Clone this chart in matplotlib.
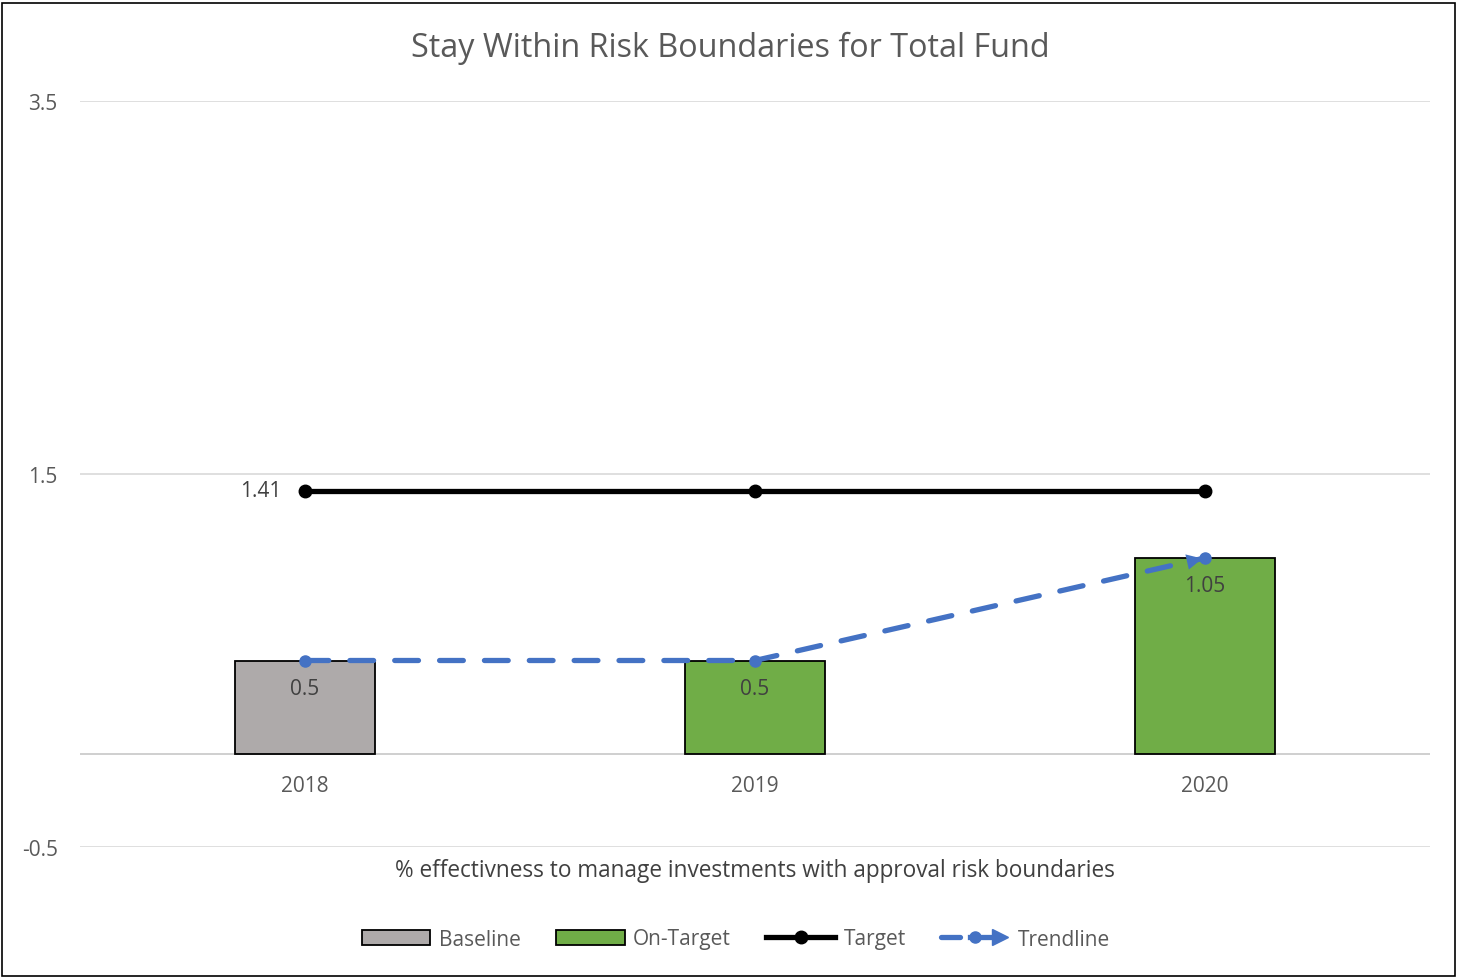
import numpy as np
import matplotlib.pyplot as plt
from matplotlib.patches import Rectangle, FancyArrowPatch
from matplotlib.lines import Line2D
from matplotlib.legend_handler import HandlerBase

plt.rcParams['font.family'] = ['Open Sans', 'DejaVu Sans']

years      = ['2018', '2019', '2020']
bar_vals   = [0.5, 0.5, 1.05]
bar_kind   = ['Baseline', 'On-Target', 'On-Target']
target     = [1.41, 1.41, 1.41]
trend      = [0.5, 0.5, 1.05]
yticks     = [-0.5, 1.5, 3.5]

GREY   = '#AEAAAA'
GREEN  = '#70AD47'
BLUE   = '#4472C4'
TXT    = '#595959'
DARK   = '#404040'


class TrendHandler(HandlerBase):
    # dash - dot - arrow, like the excel legend key
    def create_artists(self, legend, orig, xd, yd, w, h, fontsize, trans):
        y = (h - yd) / 2
        x0 = -xd
        a = Line2D([x0, x0 + 0.28 * w], [y, y], color=BLUE, lw=3.8, solid_capstyle='round')
        b = Line2D([x0 + 0.42 * w, x0 + 0.75 * w], [y, y], color=BLUE, lw=3.8)
        c = Line2D([x0 + 0.5 * w], [y], ls='none', marker='o', ms=8, color=BLUE)
        d = Line2D([x0 + 0.85 * w], [y], ls='none', marker='>', ms=11, color=BLUE)
        arts = [a, b, c, d]
        for art in arts:
            art.set_transform(trans)
        return arts


fig = plt.figure(figsize=(14.58, 9.79), dpi=100)
ax = fig.add_axes([80/1458, 1-848/979, 1350/1458, 746/979])

x = np.arange(len(years))
colors = [GREY if k == 'Baseline' else GREEN for k in bar_kind]
ax.bar(x, bar_vals, width=0.313, color=colors, edgecolor='black', linewidth=1.3, zorder=2)
for xi, v in zip(x, bar_vals):
    ax.annotate(f'{v:g}', (xi, v), xytext=(0, -20), textcoords='offset points',
                ha='center', va='center', fontsize=15, color=DARK, zorder=5)

# target line
ax.plot(x, target, color='black', lw=3.8, marker='o', ms=9, zorder=4)
ax.annotate(f'{target[0]:g}', (x[0], target[0]), xytext=(-32, 0), textcoords='offset points',
            ha='center', va='center', fontsize=15, color=DARK)

# trendline (straight dashed segments + arrow at the end)
ax.plot(x, trend, color=BLUE, lw=3.8, ls=(0, (4.5, 4)), dash_capstyle='round',
        marker='o', ms=8, zorder=5)
ax.add_patch(FancyArrowPatch((x[-1] - 0.09, trend[-1] - 0.09 * (trend[-1] - trend[-2])),
                             (x[-1], trend[-1]), arrowstyle='-|>', mutation_scale=28,
                             color=BLUE, lw=0, zorder=6))

ax.set_xlim(-0.5, 2.5)
ax.set_ylim(-0.5, 3.5)
ax.set_yticks(yticks)
ax.set_yticklabels([f'{t:g}' for t in yticks])
ax.tick_params(axis='y', length=0, labelsize=15, labelcolor=TXT, pad=16)
ax.set_xticks([])
ax.grid(axis='y', color='#D9D9D9', lw=1.2, zorder=0)
ax.axhline(0, color='#CFCFCF', lw=1.4, zorder=1)
for s in ax.spines.values():
    s.set_visible(False)

for xi, lab in zip(x, years):
    ax.annotate(lab, (xi, 0), xytext=(0, -23), textcoords='offset points',
                ha='center', va='center', fontsize=15, color=TXT)
ax.text(0.5, -23/746, '% effectivness to manage investments with approval risk boundaries',
        transform=ax.transAxes, ha='center', va='center', fontsize=16.3, color=DARK)

fig.text(730/1458, 1-48/979, 'Stay Within Risk Boundaries for Total Fund',
         ha='center', va='center', fontsize=23.3, color=TXT)

handles = [
    Rectangle((0, 0), 1, 1, facecolor=GREY, edgecolor='black', lw=1.3),
    Rectangle((0, 0), 1, 1, facecolor=GREEN, edgecolor='black', lw=1.3),
    Line2D([], [], color='black', lw=3.8, marker='o', ms=9),
    'trend',
]
fig.legend(handles, ['Baseline', 'On-Target', 'Target', 'Trendline'],
           handler_map={str: TrendHandler()},
           loc='center', bbox_to_anchor=(736/1458, 1-940/979), ncol=4, frameon=False,
           fontsize=15, labelcolor=TXT, handlelength=3.3, handletextpad=0.4,
           columnspacing=1.7, handleheight=0.75)

fig.add_artist(Rectangle((2/1458, 2/979), 1453/1458, 973/979, transform=fig.transFigure,
                         fill=False, edgecolor='black', lw=1.2))

fig.savefig('out.png', dpi=100)
